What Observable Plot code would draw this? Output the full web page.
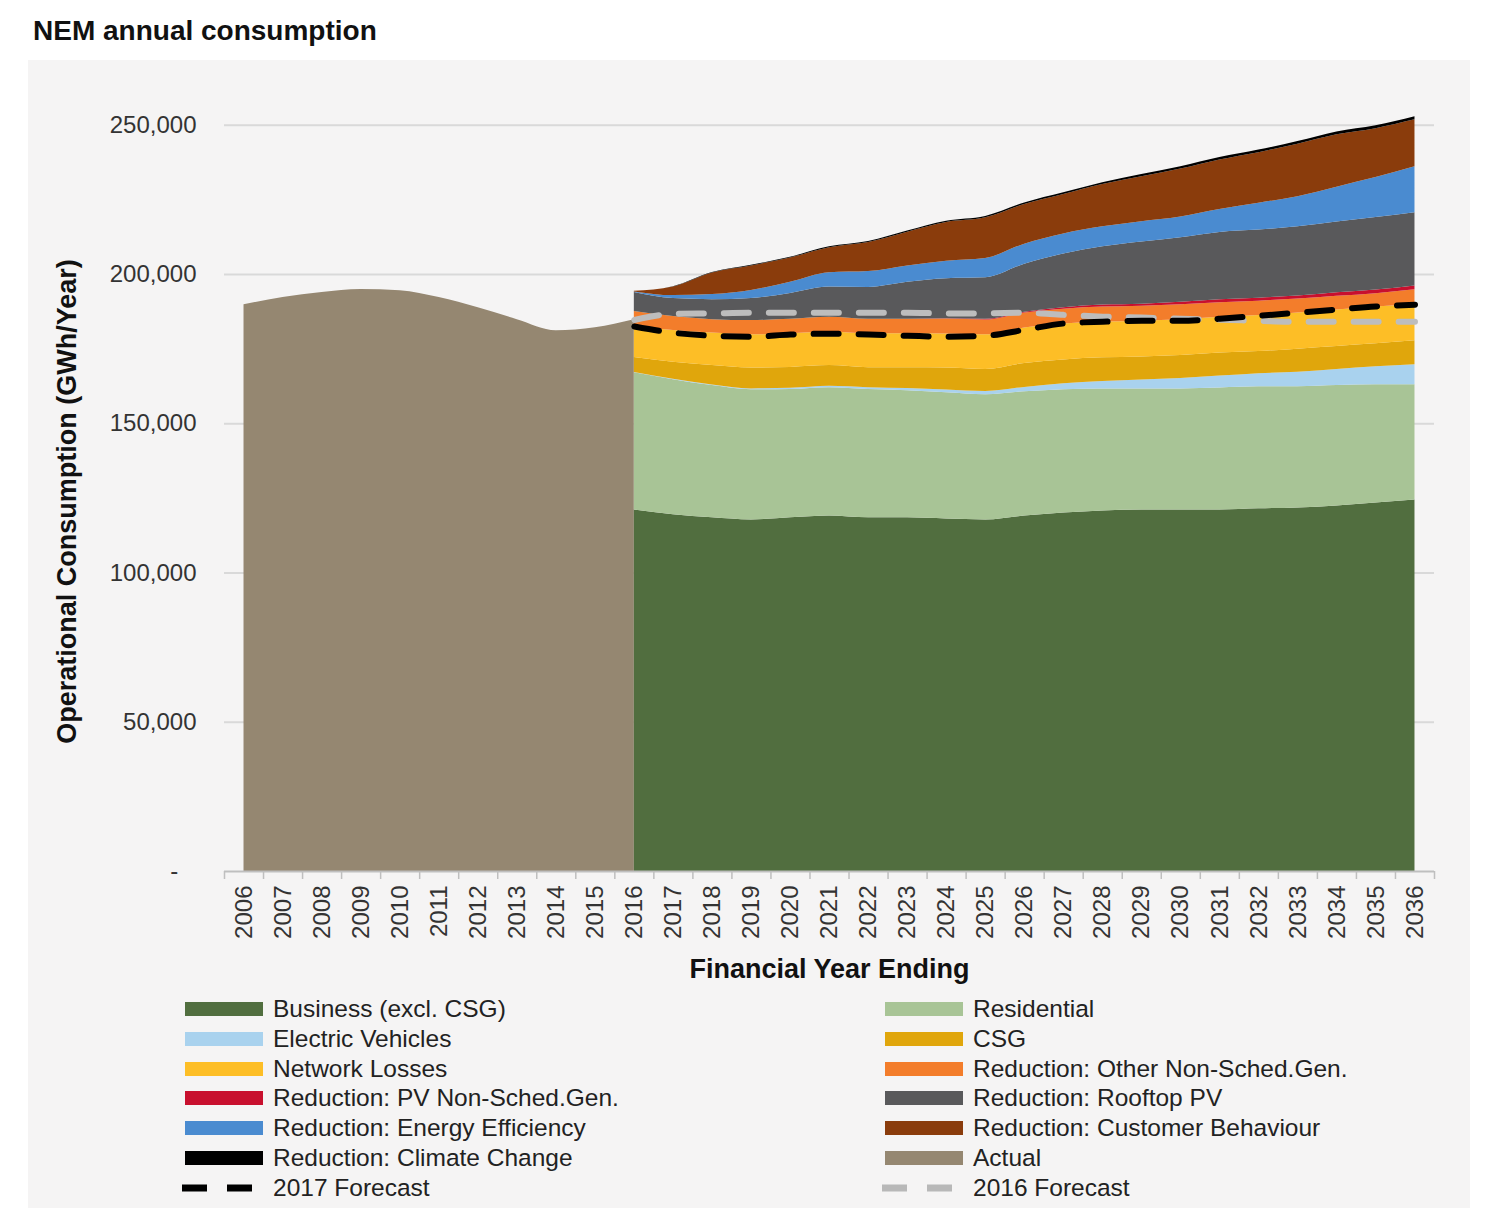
<!DOCTYPE html>
<html>
<head>
<meta charset="utf-8">
<script src="https://cdn.jsdelivr.net/npm/d3@7"></script>
<script src="https://cdn.jsdelivr.net/npm/@observablehq/plot@0.6"></script>
<style>
  body { margin: 0; background: #ffffff; font-family: Arial, "Liberation Sans", sans-serif; }
  #wrap { position: relative; width: 1500px; height: 1208px; overflow: hidden; }
  #title { position: absolute; left: 33px; top: 15px; font-size: 28px; font-weight: bold; color: #111; white-space: nowrap; }
  #panel { position: absolute; left: 28px; top: 60px; width: 1442px; height: 1148px; background: #f5f4f4; }
  #chart { position: absolute; left: 0; top: 0; }
  .item { position: absolute; height: 30px; line-height: 30px; font-size: 24.5px; color: #222; white-space: nowrap; }
  .sw { position: absolute; }
</style>
</head>
<body>
<div id="wrap">
  <div id="title">NEM annual consumption</div>
  <div id="panel">
    <div id="chart"></div>
    <div id="legend"></div>
  </div>
</div>
<script>
// ---------- data ----------
const actualYears = [2006, 2007, 2008, 2009, 2010, 2011, 2012, 2013, 2014, 2015, 2016];
const actual = [189900, 192300, 194000, 195000, 194600, 192300, 188900, 184900, 181200, 182200, 184900];

const forecastYears = [2016, 2017, 2018, 2019, 2020, 2021, 2022, 2023, 2024, 2025, 2026,
                       2027, 2028, 2029, 2030, 2031, 2032, 2033, 2034, 2035, 2036];
const business = [121100, 119500, 118500, 117800, 118500, 119100, 118500, 118500, 118100, 117800, 119100,
                  120100, 120800, 121100, 121100, 121100, 121500, 121800, 122500, 123500, 124500];
const residential = [46000, 45300, 44300, 43600, 43000, 43000, 43000, 42600, 42300, 41900, 41600,
                     41300, 40900, 40600, 40600, 40900, 40900, 40600, 40300, 39600, 38600];
const electricVehicles = [100, 150, 200, 300, 400, 500, 600, 700, 900, 1100, 1500,
                          2000, 2500, 3000, 3500, 4000, 4400, 4900, 5400, 6000, 6700];
const csg = [5000, 5700, 6500, 7000, 7000, 6900, 6700, 7000, 7400, 7400, 8000,
             8000, 7900, 7700, 7700, 7700, 7400, 7700, 7700, 7700, 8000];
const networkLosses = [10400, 10600, 10900, 11100, 11300, 11300, 11400, 11400, 11400, 11600, 11900,
                       12000, 12000, 12000, 12000, 12000, 12100, 12100, 12200, 12300, 12300];
const otherNonSched = [5000, 4700, 4500, 4800, 4800, 4900, 4800, 4800, 5000, 5000, 5000,
                       5000, 5000, 5000, 5000, 4900, 4800, 4700, 4600, 4500, 4800];
const pvNonSched = [0, 0, 0, 0, 0, 0, 0, 0, 100, 200, 300,
                    500, 700, 700, 800, 1000, 1000, 1000, 1200, 1200, 1300];
const rooftopPV = [6400, 6000, 6700, 7400, 8700, 10100, 10700, 12400, 13400, 13900, 16100,
                   18000, 19500, 20800, 21600, 22500, 22800, 23200, 23700, 24300, 24500];
const energyEfficiency = [200, 1000, 1700, 2700, 3700, 4800, 5300, 5500, 5900, 6500, 6700,
                          6700, 6700, 6800, 7000, 7700, 9000, 10100, 11700, 13400, 15400];
const customerBehaviour = [200, 2900, 7250, 8200, 8150, 8400, 9750, 11300, 12950, 13600, 13250,
                           13200, 14150, 15100, 16050, 16600, 16950, 17600, 17550, 16400, 15750];
const climateChange = [0, 100, 150, 200, 250, 300, 350, 400, 450, 500, 550,
                       600, 650, 700, 750, 800, 850, 900, 950, 1000, 1050];
const forecast2017 = [182600, 180500, 179500, 179200, 179900, 180200, 179900, 179500, 179200, 179500, 181500,
                      183600, 184200, 184500, 184500, 185200, 186200, 187200, 188300, 189300, 189900];
const forecast2016 = [184800, 186800, 187000, 187200, 187200, 187200, 187200, 187200, 187000, 187000, 187200,
                      186500, 185900, 185600, 185200, 184900, 184500, 184200, 184200, 184200, 184200];

const seriesNames = ["Business (excl. CSG)", "Residential", "Electric Vehicles", "CSG", "Network Losses",
  "Reduction: Other Non-Sched.Gen.", "Reduction: PV Non-Sched.Gen.", "Reduction: Rooftop PV",
  "Reduction: Energy Efficiency", "Reduction: Customer Behaviour", "Reduction: Climate Change"];
const seriesValues = [business, residential, electricVehicles, csg, networkLosses, otherNonSched,
  pvNonSched, rooftopPV, energyEfficiency, customerBehaviour, climateChange];
const seriesColors = ["#516e3f", "#a8c496", "#a9d2ee", "#e0a60c", "#fdbe26", "#f37d2b", "#c8102e",
  "#59595b", "#4a8bd0", "#8a3c0c", "#000000"];
const actualColor = "#958771";

const yTicks = [0, 50000, 100000, 150000, 200000, 250000];
const xTicks = d3.range(2006, 2037);
const xBounds = d3.range(2005.5, 2037, 1);

const legendLeft = [
  ["Business (excl. CSG)", "#516e3f", "box"], ["Electric Vehicles", "#a9d2ee", "box"],
  ["Network Losses", "#fdbe26", "box"], ["Reduction: PV Non-Sched.Gen.", "#c8102e", "box"],
  ["Reduction: Energy Efficiency", "#4a8bd0", "box"], ["Reduction: Climate Change", "#000000", "box"],
  ["2017 Forecast", "#000000", "dash"]];
const legendRight = [
  ["Residential", "#a8c496", "box"], ["CSG", "#e0a60c", "box"],
  ["Reduction: Other Non-Sched.Gen.", "#f37d2b", "box"], ["Reduction: Rooftop PV", "#59595b", "box"],
  ["Reduction: Customer Behaviour", "#8a3c0c", "box"], ["Actual", "#958771", "box"],
  ["2016 Forecast", "#b8b8b8", "dash"]];

// ---------- tables ----------
const actualData = actualYears.map((year, i) => ({year, value: actual[i]}));
const stackData = [];
seriesNames.forEach((series, s) => {
  forecastYears.forEach((year, i) => stackData.push({series, year, value: seriesValues[s][i]}));
});
const f2017Data = forecastYears.map((year, i) => ({year, value: forecast2017[i]}));
const f2016Data = forecastYears.map((year, i) => ({year, value: forecast2016[i]}));

const fmtY = d => d === 0 ? "-\u2007\u2009" : d3.format(",")(d);
const font = "Arial, 'Liberation Sans', sans-serif";

const chart = Plot.plot({
  width: 1442,
  height: 940,
  marginLeft: 196,
  marginRight: 36,
  marginTop: 35,
  marginBottom: 129,
  style: {background: "transparent", fontFamily: font, color: "#333"},
  x: {domain: [2005.5, 2036.5]},
  y: {domain: [0, 260000]},
  color: {domain: seriesNames, range: seriesColors},
  marks: [
    Plot.gridY(yTicks.slice(1), {stroke: "#d9d9d9", strokeOpacity: 1, strokeWidth: 2}),
    Plot.areaY(actualData, {x: "year", y: "value", fill: actualColor, curve: "monotone-x"}),
    Plot.areaY(stackData, {x: "year", y: "value", z: "series", fill: "series", order: seriesNames, curve: "monotone-x"}),
    Plot.lineY(f2016Data, {x: "year", y: "value", stroke: "#bdbdbd", strokeWidth: 6, strokeDasharray: "25,20", curve: "monotone-x"}),
    Plot.lineY(f2017Data, {x: "year", y: "value", stroke: "#000", strokeWidth: 6, strokeDasharray: "25,20", curve: "monotone-x"}),
    Plot.ruleY([0], {stroke: "#bfbfbf", strokeWidth: 2}),
    Plot.ruleX(xBounds, {x: d => d, y1: 0, y2: 0, insetBottom: -8, stroke: "#bfbfbf", strokeWidth: 1.5}),
    Plot.axisY({ticks: yTicks, tickSize: 0, tickPadding: 28, tickFormat: fmtY, label: null, fontSize: 24, fill: "#333"}),
    Plot.axisX({ticks: xTicks, tickSize: 0, tickPadding: 14, tickRotate: -90, tickFormat: d => String(d), label: null, fontSize: 24, fill: "#333"}),
    Plot.text(["Operational Consumption (GWh/Year)"], {text: d => d, frameAnchor: "left", textAnchor: "middle", dx: -157, dy: 18, rotate: -90, fontWeight: "bold", fontSize: 27, fill: "#111"}),
    Plot.text(["Financial Year Ending"], {text: d => d, frameAnchor: "bottom", textAnchor: "middle", dy: 106, fontWeight: "bold", fontSize: 27, fill: "#111"})
  ]
});
document.getElementById("chart").appendChild(chart);

// ---------- legend ----------
const legend = document.getElementById("legend");
const rowY = [949, 979, 1009, 1038, 1068, 1098, 1128];
function addItem(entry, swX, textX, cy) {
  const [label, color, kind] = entry;
  if (kind === "box") {
    const sw = document.createElement("div");
    sw.className = "sw";
    Object.assign(sw.style, {left: swX + "px", top: (cy - 7) + "px", width: "78px", height: "14px", background: color});
    legend.appendChild(sw);
  } else {
    const ns = "http://www.w3.org/2000/svg";
    const svg = document.createElementNS(ns, "svg");
    svg.setAttribute("width", 80); svg.setAttribute("height", 14);
    Object.assign(svg.style, {position: "absolute", left: (swX - 3) + "px", top: (cy - 7) + "px"});
    const ln = document.createElementNS(ns, "line");
    ln.setAttribute("x1", 0); ln.setAttribute("x2", 72); ln.setAttribute("y1", 7); ln.setAttribute("y2", 7);
    ln.setAttribute("stroke", color); ln.setAttribute("stroke-width", 7);
    ln.setAttribute("stroke-dasharray", "25,20");
    svg.appendChild(ln);
    legend.appendChild(svg);
  }
  const t = document.createElement("div");
  t.className = "item";
  t.textContent = label;
  Object.assign(t.style, {left: textX + "px", top: (cy - 15) + "px"});
  legend.appendChild(t);
}
legendLeft.forEach((e, i) => addItem(e, 157, 245, rowY[i]));
legendRight.forEach((e, i) => addItem(e, 857, 945, rowY[i]));
</script>
</body>
</html>
